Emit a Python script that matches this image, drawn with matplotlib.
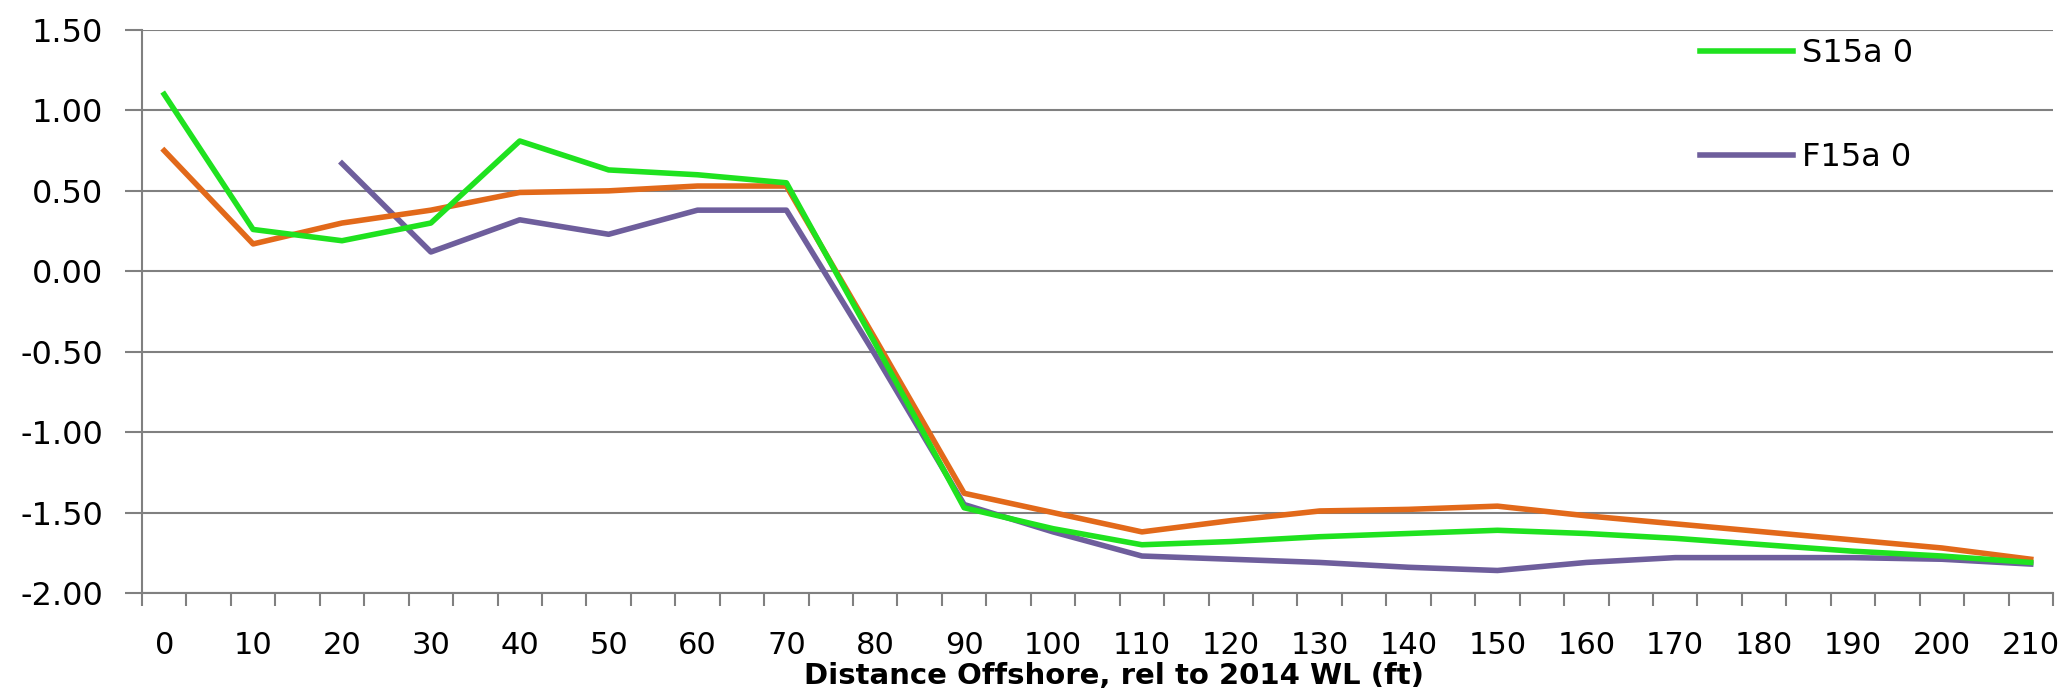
import matplotlib
matplotlib.use('Agg')
import matplotlib.pyplot as plt
import numpy as np

plt.rcParams['font.family'] = 'DejaVu Sans'
plt.rcParams['axes.unicode_minus'] = False

# Data (distance offshore in ft, elevation)
dist = [0, 10, 20, 30, 40, 50, 60, 70, 80, 90, 100,
        110, 120, 130, 140, 150, 160, 170, 180, 190, 200, 210]
s15a = [1.10, 0.26, 0.19, 0.30, 0.81, 0.63, 0.60, 0.55, -0.45, -1.47, -1.60,
        -1.70, -1.68, -1.65, -1.63, -1.61, -1.63, -1.66, -1.70, -1.74, -1.77, -1.81]
orange = [0.75, 0.17, 0.30, 0.38, 0.49, 0.50, 0.53, 0.53, -0.42, -1.38, -1.50,
          -1.62, -1.55, -1.49, -1.48, -1.46, -1.52, -1.57, -1.62, -1.67, -1.72, -1.79]
f15a_dist = [20, 30, 40, 50, 60, 70, 80, 90, 100,
             110, 120, 130, 140, 150, 160, 170, 180, 190, 200, 210]
f15a = [0.67, 0.12, 0.32, 0.23, 0.38, 0.38, -0.52, -1.45, -1.62,
        -1.77, -1.79, -1.81, -1.84, -1.86, -1.81, -1.78, -1.78, -1.78, -1.79, -1.82]

yticks = [-2.0, -1.5, -1.0, -0.5, 0.0, 0.5, 1.0, 1.5]
xlabels = dist

fig = plt.figure(figsize=(20.67, 6.91), dpi=100)
ax = fig.add_axes([0.0687, 0.1418, 0.9245, 0.8148])

l1, = ax.plot(f15a_dist, f15a, color='#6E5E9C', linewidth=4, label='F15a 0')
l2, = ax.plot(dist, orange, color='#E2691A', linewidth=4)
l3, = ax.plot(dist, s15a, color='#1FE21F', linewidth=4, label='S15a 0')

ax.set_xlim(-2.5, 212.5)
ax.set_ylim(-2.0, 1.5)
ax.set_yticks(yticks)
ax.set_yticklabels([f'{v:.2f}' for v in yticks], fontsize=23)
ax.set_xticks(xlabels)
ax.set_xticklabels([str(v) for v in xlabels], fontsize=22)
ax.set_xticks(np.arange(-2.5, 213, 5), minor=True)
ax.tick_params(axis='x', which='major', length=0, pad=27)
ax.tick_params(axis='x', which='minor', length=9, width=1.5, color='#808080', direction='out')
ax.tick_params(axis='y', length=12, width=1.5, color='#808080', pad=16)

ax.grid(True, axis='y', color='#808080', linewidth=1.5)
ax.set_axisbelow(True)
for side in ['top', 'right']:
    ax.spines[side].set_visible(False)
for side in ['left', 'bottom']:
    ax.spines[side].set_color('#808080')
    ax.spines[side].set_linewidth(1.5)

fig.text(1114 / 2067, 1 - 676 / 691, 'Distance Offshore, rel to 2014 WL (ft)',
         fontsize=21, fontweight='bold', ha='center', va='center')

ax.legend(handles=[l3, l1], loc='upper left', bbox_to_anchor=(1684 / 2067, 1 - 22 / 691),
          bbox_transform=fig.transFigure, frameon=False, fontsize=23,
          borderpad=0, labelspacing=2.3, handlelength=2.9, handletextpad=0.3)

plt.savefig('out.png', dpi=100)
